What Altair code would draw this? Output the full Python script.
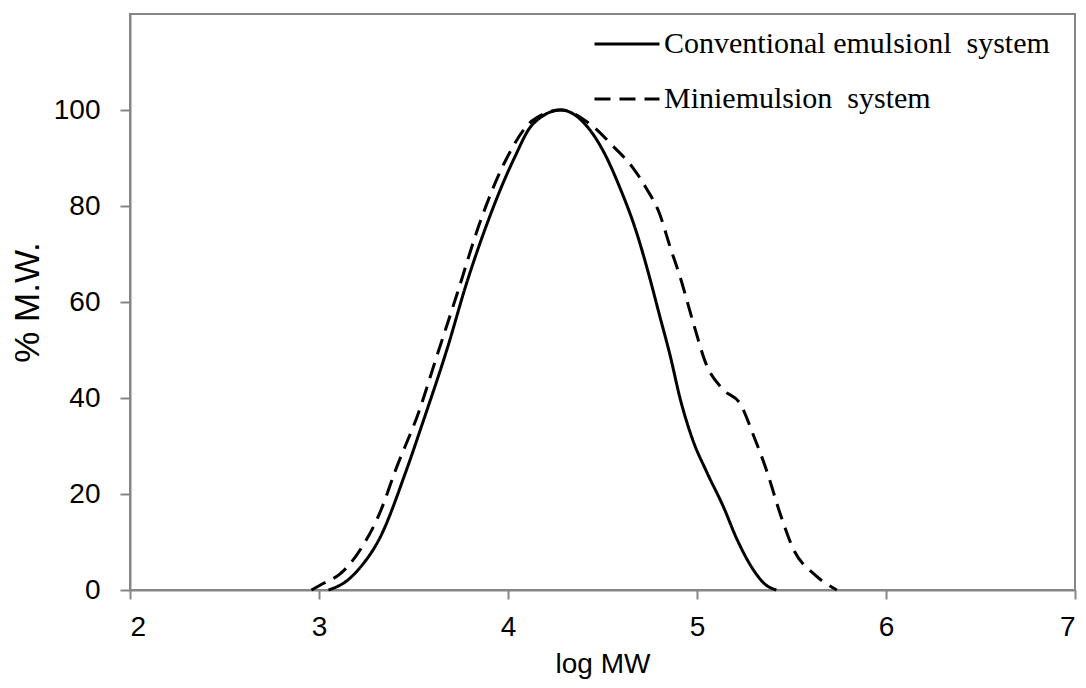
import altair as alt
import pandas as pd

conv_x = [3.05, 3.15, 3.22, 3.32, 3.46, 3.55, 3.68, 3.78, 3.89, 4.03, 4.13, 4.28,
          4.42, 4.51, 4.59, 4.68, 4.75, 4.80, 4.86, 4.91, 4.98, 5.05, 5.14, 5.21,
          5.30, 5.36, 5.42]
conv_y = [0, 2, 4.8, 10.7, 24.7, 35, 50.5, 63.8, 76.4, 89.7, 97, 100,
          96.5, 91, 84, 74.5, 65, 57.5, 48.5, 40, 31, 24.7, 17.3, 10.7,
          4.1, 1.2, 0]

mini_x = [2.96, 3.03, 3.11, 3.22, 3.32, 3.41, 3.53, 3.62, 3.73, 3.85, 3.99, 4.13,
          4.28, 4.43, 4.56, 4.66, 4.73, 4.80, 4.86, 4.91, 4.98, 5.05, 5.14, 5.23,
          5.30, 5.37, 5.44, 5.51, 5.62, 5.74]
mini_y = [0, 1.5, 3.3, 8.5, 15.9, 25.5, 37.3, 48.3, 61.6, 76.4, 89.7, 97.8,
          100, 97.2, 92.3, 88, 83.8, 78.6, 71.2, 65.3, 55.7, 46.9, 41.7, 38.7,
          32.1, 24.7, 15.9, 8.5, 3.3, 0]

series = ["Conventional emulsionl\u00a0 system", "Miniemulsion\u00a0 system"]
x_ticks = [2, 3, 4, 5, 6, 7]
y_ticks = [0, 20, 40, 60, 80, 100]

rows = []
for i, (xv, yv) in enumerate(zip(conv_x, conv_y)):
    rows.append({"logMW": xv, "pct": yv, "series": series[0], "order": i})
for i, (xv, yv) in enumerate(zip(mini_x, mini_y)):
    rows.append({"logMW": xv, "pct": yv, "series": series[1], "order": i})
df = pd.DataFrame(rows)

AXIS_GRAY = "#868686"

chart = alt.Chart(df).mark_line(interpolate="monotone", strokeWidth=3, color="black").encode(
    x=alt.X("logMW:Q", scale=alt.Scale(domain=[2, 7], nice=False, zero=False),
            axis=alt.Axis(title="log MW", values=x_ticks, grid=False, format="d",
                          domainColor=AXIS_GRAY, domainWidth=2, tickColor=AXIS_GRAY,
                          tickWidth=2, tickSize=9, labelFont="Liberation Sans",
                          labelFontSize=28, labelColor="black", labelPadding=14,
                          titleFont="Liberation Sans", titleFontSize=28,
                          titleFontWeight="normal", titleColor="black", titlePadding=9)),
    y=alt.Y("pct:Q", scale=alt.Scale(domain=[0, 120], nice=False),
            axis=alt.Axis(title="% M.W.", values=y_ticks, grid=False,
                          domainColor=AXIS_GRAY, domainWidth=2, tickColor=AXIS_GRAY,
                          tickWidth=2, tickSize=10, labelFont="Liberation Sans",
                          labelFontSize=28, labelColor="black", labelPadding=20,
                          titleFont="Liberation Sans", titleFontSize=35,
                          titleFontWeight="normal", titleColor="black", titlePadding=8)),
    strokeDash=alt.StrokeDash("series:N",
                              scale=alt.Scale(domain=series, range=[[1, 0], [16, 9]]),
                              legend=alt.Legend(title=None, orient="none", legendX=463,
                                                legendY=-4, symbolType="stroke",
                                                symbolSize=4225, symbolStrokeWidth=3,
                                                symbolStrokeColor="black",
                                                labelFont="Liberation Serif",
                                                labelFontSize=30, labelColor="black",
                                                labelOffset=3, rowPadding=6,
                                                labelLimit=700)),
    order="order:Q",
).properties(
    width=945, height=576,
    autosize=alt.AutoSizeParams(type="none"),
    padding={"left": 122, "top": 6, "right": 3, "bottom": 90},
).configure_view(stroke=AXIS_GRAY, strokeWidth=2)

chart.save("out.html", embed_options={"renderer": "svg", "actions": False})
